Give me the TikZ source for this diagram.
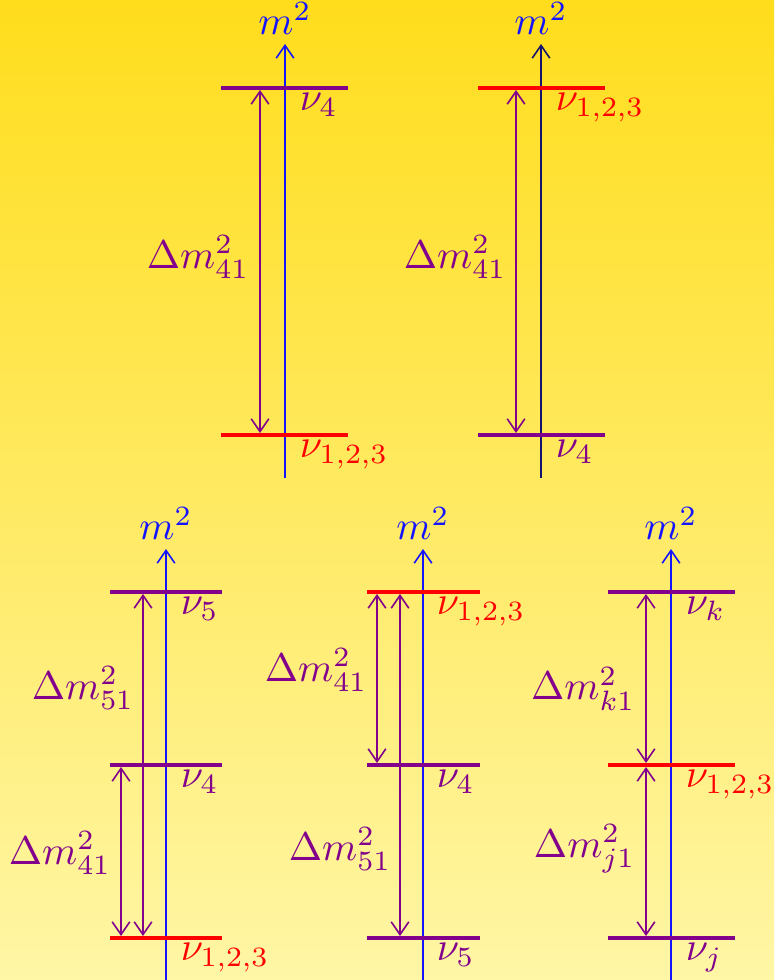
\documentclass[tikz,border=0pt]{standalone}
\usetikzlibrary{arrows.meta}
\definecolor{bgtop}{RGB}{255,221,28}
\definecolor{bgmid}{RGB}{255,232,85}
\definecolor{bgbot}{RGB}{255,246,166}
\definecolor{lvpurple}{RGB}{130,0,140}
\definecolor{axblue}{RGB}{20,20,255}
\definecolor{axdark}{RGB}{20,20,110}
\tikzset{
  tipbarb/.tip={Straight Barb[length=3.2pt,width=4.4pt]},
  axisline/.style={draw=axblue,line width=0.4pt,-tipbarb},
  lvp/.style={draw=lvpurple,line width=1.05pt},
  lvr/.style={draw=red,line width=1.05pt},
  dm/.style={draw=lvpurple,line width=0.4pt,tipbarb-tipbarb,shorten <=0.5pt,shorten >=0.5pt},
  mlab/.style={anchor=base,inner sep=0pt,text=axblue},
  nup/.style={anchor=base west,inner sep=0pt,text=lvpurple},
  nur/.style={anchor=base west,inner sep=0pt,text=red},
  dlab/.style={anchor=east,inner sep=0pt,text=lvpurple},
}
\begin{document}
\begin{tikzpicture}[x=0.25pt,y=-0.25pt]
\useasboundingbox (0,0) rectangle (774,980);
\shade[top color=bgtop,middle color=bgmid,bottom color=bgbot] (0,0) rectangle (774,980);

% ---------- Diagram A (top left)
\coordinate (Aa0) at (285,478); \coordinate (Aa1) at (285,44);
\coordinate (A4l) at (221,88); \coordinate (A4r) at (348,88);
\coordinate (A1l) at (221,435); \coordinate (A1r) at (348,435);
\coordinate (Ad0) at (260,88); \coordinate (Ad1) at (260,435);
\draw[axisline] (Aa0) -- (Aa1);
\node[mlab] (Am) at (285,35) {$m^2$};
\draw[lvp] (A4l) -- (A4r);
\draw[lvr] (A1l) -- (A1r);
\node[nup] (An4) at (299,111) {$\nu_4$};
\node[nur] (An1) at (299,458) {$\nu_{1,2,3}$};
\draw[dm] (Ad0) -- (Ad1);
\node[dlab] (AD) at (250,257) {$\Delta m^2_{41}$};

% ---------- Diagram B (top right)
\coordinate (Ba0) at (541,478); \coordinate (Ba1) at (541,44);
\coordinate (B1l) at (478,88); \coordinate (B1r) at (605,88);
\coordinate (B4l) at (478,435); \coordinate (B4r) at (605,435);
\coordinate (Bd0) at (516,88); \coordinate (Bd1) at (516,435);
\draw[axisline,draw=axdark] (Ba0) -- (Ba1);
\node[mlab] (Bm) at (541,35) {$m^2$};
\draw[lvr] (B1l) -- (B1r);
\draw[lvp] (B4l) -- (B4r);
\node[nur] (Bn1) at (555,111) {$\nu_{1,2,3}$};
\node[nup] (Bn4) at (555,458) {$\nu_4$};
\draw[dm] (Bd0) -- (Bd1);
\node[dlab] (BD) at (507,257) {$\Delta m^2_{41}$};

% ---------- Diagram C (bottom left)
\coordinate (Ca0) at (166,980); \coordinate (Ca1) at (166,549);
\coordinate (C5l) at (110,592); \coordinate (C5r) at (222,592);
\coordinate (C4l) at (110,765); \coordinate (C4r) at (222,765);
\coordinate (C1l) at (110,938); \coordinate (C1r) at (222,938);
\draw[axisline] (Ca0) -- (Ca1);
\node[mlab] (Cm) at (166,540) {$m^2$};
\draw[lvp] (C5l) -- (C5r);
\draw[lvp] (C4l) -- (C4r);
\draw[lvr] (C1l) -- (C1r);
\node[nup] (Cn5) at (180,614) {$\nu_5$};
\node[nup] (Cn4) at (180,787) {$\nu_4$};
\node[nur] (Cn1) at (180,960) {$\nu_{1,2,3}$};
\coordinate (Cd0) at (121,765); \coordinate (Cd1) at (121,938);
\coordinate (Ce0) at (143,592); \coordinate (Ce1) at (143,938);
\draw[dm] (Cd0) -- (Cd1);
\draw[dm] (Ce0) -- (Ce1);
\node[dlab] (CD51) at (135,688) {$\Delta m^2_{51}$};
\node[dlab] (CD41) at (112,853) {$\Delta m^2_{41}$};

% ---------- Diagram D (bottom middle)
\coordinate (Da0) at (423,980); \coordinate (Da1) at (423,549);
\coordinate (D1l) at (367,592); \coordinate (D1r) at (480,592);
\coordinate (D4l) at (367,765); \coordinate (D4r) at (480,765);
\coordinate (D5l) at (367,938); \coordinate (D5r) at (480,938);
\draw[axisline] (Da0) -- (Da1);
\node[mlab] (Dm) at (423,540) {$m^2$};
\draw[lvr] (D1l) -- (D1r);
\draw[lvp] (D4l) -- (D4r);
\draw[lvp] (D5l) -- (D5r);
\node[nur] (Dn1) at (436,614) {$\nu_{1,2,3}$};
\node[nup] (Dn4) at (436,787) {$\nu_4$};
\node[nup] (Dn5) at (436,960) {$\nu_5$};
\coordinate (Dd0) at (377,592); \coordinate (Dd1) at (377,765);
\coordinate (De0) at (400,592); \coordinate (De1) at (400,938);
\draw[dm] (Dd0) -- (Dd1);
\draw[dm] (De0) -- (De1);
\node[dlab] (DD41) at (368,670) {$\Delta m^2_{41}$};
\node[dlab] (DD51) at (392,849) {$\Delta m^2_{51}$};

% ---------- Diagram E (bottom right)
\coordinate (Ea0) at (671,980); \coordinate (Ea1) at (671,549);
\coordinate (Ekl) at (608,592); \coordinate (Ekr) at (735,592);
\coordinate (E1l) at (608,765); \coordinate (E1r) at (735,765);
\coordinate (Ejl) at (608,938); \coordinate (Ejr) at (735,938);
\draw[axisline] (Ea0) -- (Ea1);
\node[mlab] (Em) at (671,540) {$m^2$};
\draw[lvp] (Ekl) -- (Ekr);
\draw[lvr] (E1l) -- (E1r);
\draw[lvp] (Ejl) -- (Ejr);
\node[nup] (Enk) at (685,614) {$\nu_k$};
\node[nur] (En1) at (685,787) {$\nu_{1,2,3}$};
\node[nup] (Enj) at (685,960) {$\nu_j$};
\coordinate (Ed0) at (646,592); \coordinate (Ed1) at (646,765);
\coordinate (Ee0) at (646,765); \coordinate (Ee1) at (646,938);
\draw[dm] (Ed0) -- (Ed1);
\draw[dm] (Ee0) -- (Ee1);
\node[dlab] (EDk) at (636,689) {$\Delta m^2_{k1}$};
\node[dlab] (EDj) at (636,849) {$\Delta m^2_{j1}$};
\end{tikzpicture}
\end{document}
